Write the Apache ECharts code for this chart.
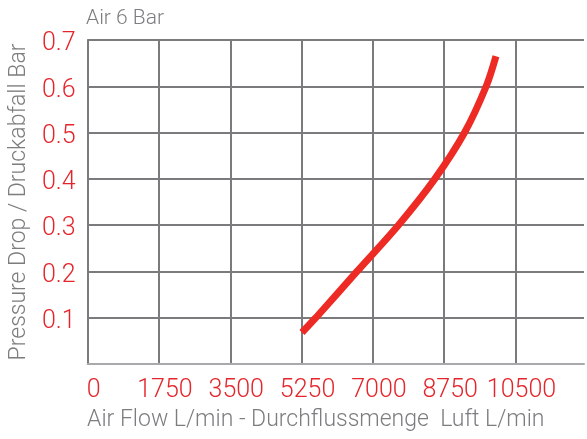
<!DOCTYPE html>
<html>
<head>
<meta charset="utf-8">
<script src="https://cdn.jsdelivr.net/npm/echarts@6/dist/echarts.min.js"></script>
<style>
  html, body { margin: 0; padding: 0; background: #fff; }
  #main { width: 587px; height: 439px; }
</style>
</head>
<body>
<div id="main"></div>
<script>
// 流量 L/min 与压降 Bar 的读数
var flowValues = [5260, 5600, 6610, 7625, 8520, 9250, 9780, 10020];
var dropValues = [0.068, 0.1, 0.2, 0.3, 0.4, 0.5, 0.6, 0.665];
var xTicks = [0, 1750, 3500, 5250, 7000, 8750, 10500];
var yTicks = [0.1, 0.2, 0.3, 0.4, 0.5, 0.6, 0.7];

var red = '#e4262c';
var gray = '#7d7d80';
var font = 'Roboto, "Liberation Sans", Arial, sans-serif';

var chart = echarts.init(document.getElementById('main'));

var points = flowValues.map(function (v, i) { return [v, dropValues[i]]; });

chart.setOption({
  animation: false,
  grid: { left: 86, top: 40, right: 0, bottom: 75 },
  graphic: [
    // 标题
    { type: 'text', left: 86, top: 8,
      style: { text: 'Air 6 Bar', fill: gray, font: '300 21px ' + font } },
    // x轴名
    { type: 'text', left: 87, top: 409,
      style: { text: 'Air Flow L/min - Durchflussmenge  Luft L/min', fill: gray, font: '300 23px ' + font } }
  ],
  xAxis: {
    type: 'value',
    min: 0,
    max: 12180,
    interval: 1750,
    axisLine: { show: true, lineStyle: { color: '#a9a9ab', width: 2 } },
    axisTick: { show: false },
    axisLabel: {
      color: red, fontSize: 25, fontFamily: font, fontWeight: 300,
      margin: 14, padding: [0, 0, 0, 12],
      formatter: function (v) { return xTicks.indexOf(v) >= 0 ? String(v) : ''; }
    },
    splitLine: { show: true, showMaxLine: false, lineStyle: { color: '#7b7b7d', width: 2 } }
  },
  yAxis: {
    type: 'value',
    min: 0,
    max: 0.7,
    interval: 0.1,
    name: 'Pressure Drop / Druckabfall Bar',
    nameLocation: 'middle',
    nameGap: 56,
    nameTextStyle: { color: gray, fontSize: 23, fontFamily: font, fontWeight: 300 },
    axisLine: { show: true, lineStyle: { color: '#7b7b7d', width: 2 } },
    axisTick: { show: false },
    axisLabel: {
      margin: 12,
      formatter: function (v) {
        var s = v.toFixed(1);
        return yTicks.indexOf(Number(s)) >= 0 ? '{v|' + s + '}' : '';
      },
      rich: {
        v: { color: red, fontSize: 25, fontFamily: font, fontWeight: 300, padding: [8, 0, 0, 0] }
      }
    },
    splitLine: { show: true, lineStyle: { color: '#7b7b7d', width: 2 } }
  },
  series: [{
    type: 'line',
    data: points,
    smooth: 0.3,
    showSymbol: false,
    lineStyle: { color: '#ee2a24', width: 7, cap: 'butt' }
  }]
});
</script>
</body>
</html>
